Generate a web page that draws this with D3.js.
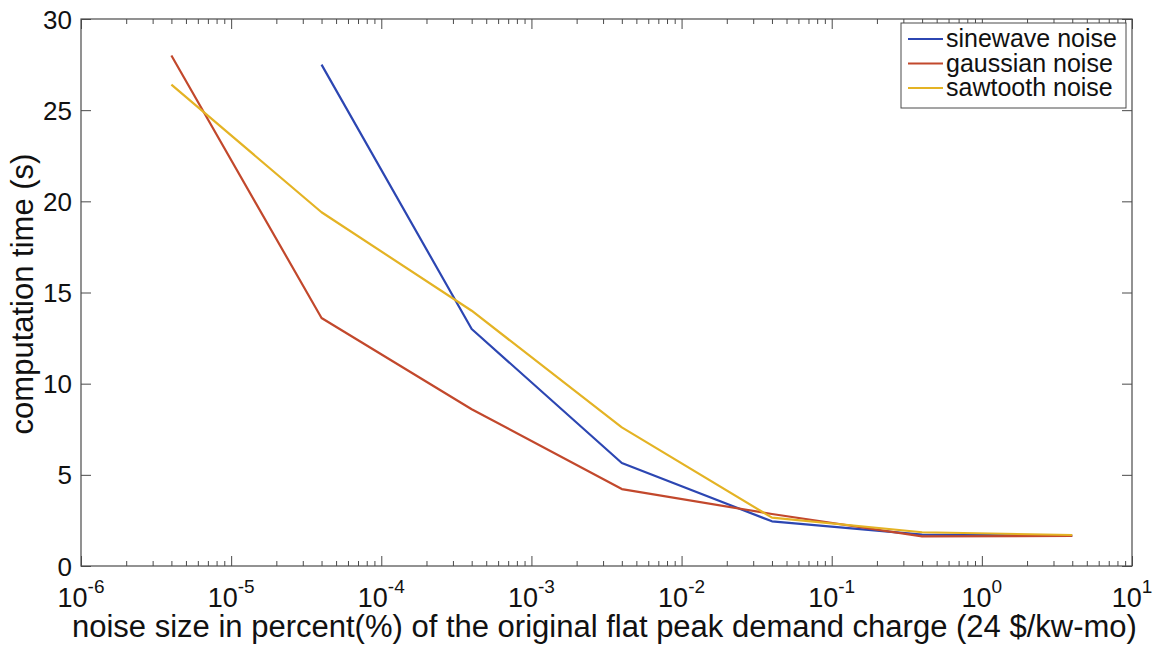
<!DOCTYPE html>
<html>
<head>
<meta charset="utf-8">
<script src="https://cdn.jsdelivr.net/npm/d3@7/dist/d3.min.js"></script>
<style>
  html, body { margin: 0; padding: 0; background: #fff; }
  svg { display: block; font-family: "Liberation Sans", Arial, Helvetica, sans-serif; }
</style>
</head>
<body>
<svg id="chart" width="1154" height="648"></svg>
<script>
// Noise size (% of flat peak demand charge) at which each run was made
const noiseSize = [4e-6, 4e-5, 4e-4, 4e-3, 4e-2, 4e-1, 4];

// Computation time (s) per noise type
const sinewave = [null, 27.5, 13.0, 5.65, 2.45, 1.72, 1.65];
const gaussian = [28.0, 13.6, 8.6, 4.22, 2.85, 1.62, 1.65];
const sawtooth = [26.4, 19.4, 14.0, 7.6, 2.65, 1.85, 1.7];

const seriesNames = ["sinewave noise", "gaussian noise", "sawtooth noise"];
const seriesColors = ["#2c46b2", "#c2482c", "#e4b324"];
const seriesValues = [sinewave, gaussian, sawtooth];

const xDecades = [-6, -5, -4, -3, -2, -1, 0, 1];
const yTicks = [0, 5, 10, 15, 20, 25, 30];

const xLabel = "noise size in percent(%) of the original flat peak demand charge (24 $/kw-mo)";
const yLabel = "computation time (s)";

const svg = d3.select("#chart");
const m = { left: 81, right: 1132, top: 19, bottom: 566 };
const axisColor = "#4a4a4a";

const x = d3.scaleLog().domain([1e-6, 1e1]).range([m.left, m.right]);
const y = d3.scaleLinear().domain([0, 30]).range([m.bottom, m.top]);

// Minor tick values (2..9 of each decade)
const minor = [];
xDecades.slice(0, -1).forEach(d => {
  for (let k = 2; k <= 9; k++) minor.push(k * Math.pow(10, d));
});
const major = xDecades.map(d => Math.pow(10, d));

const W = m.right - m.left, H = m.bottom - m.top;

// Frame with ticks pointing inward on all four sides
function ticks(axisGen, scale, values, size, tx, ty) {
  svg.append("g").attr("transform", `translate(${tx},${ty})`)
    .call(axisGen(scale).tickValues(values).tickSize(-size).tickFormat(""))
    .call(g => g.select(".domain").remove());
}
ticks(d3.axisBottom, x, major, 10, 0, m.bottom);
ticks(d3.axisBottom, x, minor, 5, 0, m.bottom);
ticks(d3.axisTop, x, major, 10, 0, m.top);
ticks(d3.axisTop, x, minor, 5, 0, m.top);
ticks(d3.axisLeft, y, yTicks, 10, m.left, 0);
ticks(d3.axisRight, y, yTicks, 10, m.right, 0);

svg.selectAll(".tick line").attr("stroke", axisColor).attr("stroke-width", 1);

svg.append("rect")
  .attr("x", m.left).attr("y", m.top).attr("width", W).attr("height", H)
  .attr("fill", "none").attr("stroke", axisColor).attr("stroke-width", 1.2);

// Y tick labels
svg.append("g").selectAll("text").data(yTicks).join("text")
  .attr("x", m.left - 9).attr("y", d => y(d) + 9.5)
  .attr("text-anchor", "end").attr("font-size", 26).attr("fill", "#111")
  .text(d => d);

// X tick labels as 10 with superscript exponents
const xl = svg.append("g").selectAll("text").data(xDecades).join("text")
  .attr("x", d => x(Math.pow(10, d))).attr("y", m.bottom + 41)
  .attr("text-anchor", "middle").attr("font-size", 27).attr("fill", "#111");
xl.append("tspan").text("10");
xl.append("tspan").attr("font-size", 19).attr("dy", -14).text(d => d);

// Axis titles
svg.append("text")
  .attr("x", 72).attr("y", 637)
  .attr("font-size", 31).attr("fill", "#111")
  .text(xLabel);
svg.append("text")
  .attr("transform", `translate(33,${294}) rotate(-90)`)
  .attr("text-anchor", "middle").attr("font-size", 31).attr("fill", "#111")
  .text(yLabel);

// Series lines
const line = d3.line()
  .defined(d => d[1] != null)
  .x(d => x(d[0])).y(d => y(d[1]));

seriesValues.forEach((vals, i) => {
  svg.append("path")
    .datum(noiseSize.map((n, j) => [n, vals[j]]))
    .attr("fill", "none")
    .attr("stroke", seriesColors[i])
    .attr("stroke-width", 2.2)
    .attr("stroke-linejoin", "round")
    .attr("d", line);
});

// Legend
const lg = svg.append("g");
lg.append("rect")
  .attr("x", 901).attr("y", 23).attr("width", 225).attr("height", 85)
  .attr("fill", "#fff").attr("stroke", axisColor).attr("stroke-width", 1);
seriesNames.forEach((name, i) => {
  const cy = 39 + i * 24.5;
  lg.append("line")
    .attr("x1", 908).attr("x2", 943).attr("y1", cy).attr("y2", cy)
    .attr("stroke", seriesColors[i]).attr("stroke-width", 2.2);
  lg.append("text")
    .attr("x", 946).attr("y", cy + 8)
    .attr("font-size", 25).attr("fill", "#111")
    .text(name);
});
</script>
</body>
</html>
